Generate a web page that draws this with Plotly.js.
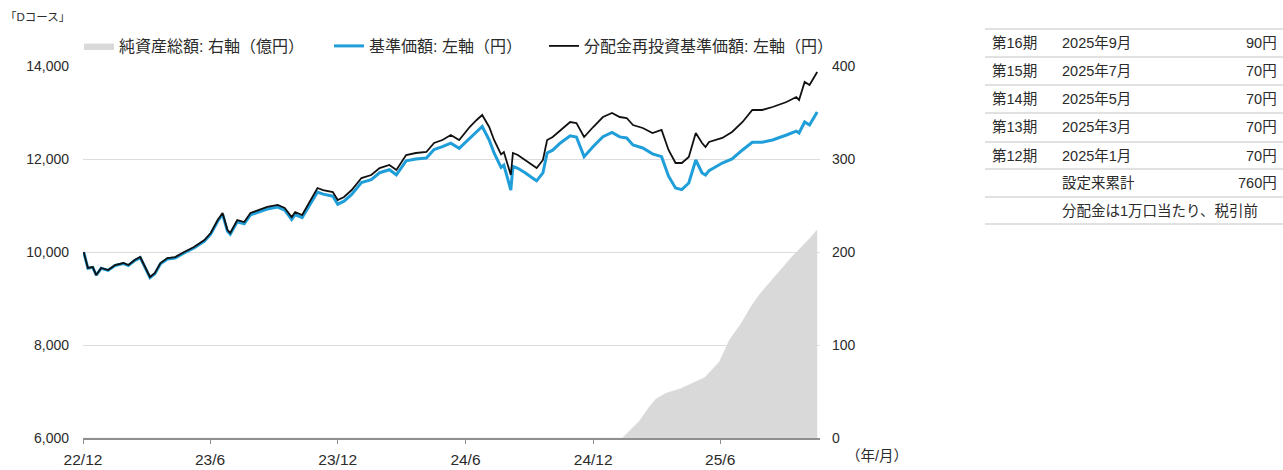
<!DOCTYPE html>
<html><head><meta charset="utf-8">
<script src="https://cdn.plot.ly/plotly-3.0.1.min.js"></script>
<style>html,body{margin:0;padding:0;background:#fff}#chart{width:1283px;height:470px}</style>
</head><body><div id="chart"></div>
<script>
// ---- data ----
const navDates = ["2022-12-02","2022-12-08","2022-12-15","2022-12-20","2022-12-27","2023-01-06","2023-01-16","2023-01-28","2023-02-04","2023-02-13","2023-02-21","2023-02-28","2023-03-07","2023-03-14","2023-03-22","2023-04-01","2023-04-12","2023-04-25","2023-05-09","2023-05-24","2023-06-02","2023-06-12","2023-06-19","2023-06-26","2023-06-30","2023-07-10","2023-07-20","2023-07-29","2023-08-10","2023-08-22","2023-09-06","2023-09-16","2023-09-26","2023-10-01","2023-10-11","2023-11-02","2023-11-10","2023-11-24","2023-12-01","2023-12-10","2023-12-21","2024-01-04","2024-01-18","2024-01-30","2024-02-13","2024-02-23","2024-03-08","2024-03-22","2024-04-06","2024-04-17","2024-04-29","2024-05-11","2024-05-23","2024-06-07","2024-06-17","2024-06-25","2024-07-05","2024-07-12","2024-07-22","2024-07-26","2024-08-05","2024-08-08","2024-08-15","2024-08-26","2024-09-05","2024-09-11","2024-09-20","2024-09-26","2024-10-04","2024-10-15","2024-10-29","2024-11-07","2024-11-18","2024-12-01","2024-12-15","2024-12-28","2025-01-08","2025-01-18","2025-01-27","2025-02-10","2025-02-24","2025-03-09","2025-03-19","2025-03-29","2025-04-07","2025-04-17","2025-04-27","2025-05-06","2025-05-11","2025-05-16","2025-06-04","2025-06-18","2025-07-03","2025-07-17","2025-07-31","2025-08-15","2025-09-04","2025-09-18","2025-09-22","2025-09-30","2025-10-07","2025-10-18"];
const reinvestNav = [10000,9656,9677,9505,9656,9613,9720,9763,9720,9828,9892,9677,9462,9548,9763,9871,9892,10000,10108,10258,10409,10688,10839,10473,10409,10688,10645,10839,10903,10968,11011,10946,10750,10860,10796,11376,11333,11290,11118,11183,11333,11591,11656,11806,11871,11763,12086,12129,12151,12344,12409,12516,12409,12688,12839,12946,12688,12409,12100,12150,11656,12129,12086,11979,11871,11806,11979,12409,12473,12624,12796,12774,12473,12688,12903,12989,12903,12882,12731,12667,12559,12624,12194,11914,11914,12043,12559,12344,12258,12366,12452,12581,12796,13054,13054,13118,13226,13333,13269,13656,13591,13871];
const nav = [10000,9650,9670,9500,9650,9605,9710,9752,9708,9815,9878,9662,9446,9530,9745,9850,9870,9978,10085,10235,10385,10662,10812,10445,10380,10650,10605,10798,10860,10925,10965,10900,10700,10805,10738,11290,11245,11200,11028,11093,11240,11492,11556,11705,11770,11660,11960,12000,12020,12205,12265,12340,12230,12450,12600,12700,12410,12130,11820,11870,11333,11840,11800,11700,11590,11530,11700,12130,12190,12344,12500,12473,12050,12270,12480,12570,12475,12452,12300,12237,12110,12050,11630,11376,11340,11484,11979,11700,11656,11750,11914,12000,12194,12360,12360,12409,12516,12600,12559,12796,12731,13011];
const assetDates = ["2022-12-02","2025-01-12","2025-02-05","2025-02-20","2025-03-01","2025-03-15","2025-04-05","2025-04-22","2025-05-10","2025-05-31","2025-06-05","2025-06-14","2025-07-01","2025-07-15","2025-07-28","2025-08-15","2025-08-28","2025-09-12","2025-09-25","2025-10-08","2025-10-18"];
const netAssets = [0,0,18,34,42,48,53,59,65,82,90,105,123,141,155,170,182,195,205,215,224];
const tickDates = ["2022-12-01","2023-06-01","2023-12-01","2024-06-01","2024-12-01","2025-06-01"];
const tickLabels = ["22/12","23/6","23/12","24/6","24/12","25/6"];
const seriesNames = ["純資産総額: 右軸（億円）","基準価額: 左軸（円）","分配金再投資基準価額: 左軸（円）"];
const periods = ["第16期","第15期","第14期","第13期","第12期"];
const payMonths = ["2025年9月","2025年7月","2025年5月","2025年3月","2025年1月"];
const payAmounts = ["90円","70円","70円","70円","70円"];
const totalLabel = "設定来累計";
const totalAmount = "760円";
const noteText = "分配金は1万口当たり、税引前";
const chartTitle = "「Dコース」";
const axisUnit = "（年/月）";

// ---- geometry helpers (pixel -> paper) ----
const W = 1283, H = 470, L = 83, R = 820, T = 66, B = 438;
const px = x => (x - L) / (R - L);
const py = y => (B - y) / (B - T);
const FONT = '"Liberation Sans", "Noto Sans CJK JP", sans-serif';
const TXT = '#2b2b2b';
const TBL = 14.5;

const traces = [
  {x: assetDates, y: netAssets, yaxis: 'y2', type: 'scatter', mode: 'lines', fill: 'tozeroy',
   fillcolor: '#d9d9d9', line: {color: '#d9d9d9', width: 0.5}, name: seriesNames[0], legend: 'legend', hoverinfo: 'skip'},
  {x: navDates, y: nav, type: 'scatter', mode: 'lines', line: {color: '#1f9ed9', width: 3}, name: seriesNames[1], legend: 'legend2'},
  {x: navDates, y: reinvestNav, type: 'scatter', mode: 'lines', line: {color: '#111111', width: 1.8}, name: seriesNames[2], legend: 'legend3'}
];

const shapes = [];
const annotations = [];
annotations.push({xref: 'paper', yref: 'paper', x: px(3), y: py(17), xanchor: 'left', yanchor: 'middle', text: chartTitle, showarrow: false, font: {size: 11.5, color: TXT}});
annotations.push({xref: 'paper', yref: 'paper', x: px(877), y: py(456), xanchor: 'center', yanchor: 'middle', text: axisUnit, showarrow: false, font: {size: 14.5, color: TXT}});

// table
const lineYs = [29, 57, 85, 113, 142, 169, 197, 224];
lineYs.forEach(yy => shapes.push({type: 'line', xref: 'paper', yref: 'paper', x0: px(985), x1: px(1283), y0: py(yy), y1: py(yy), line: {color: '#c4c4c4', width: 1.2}}));
const rowY = i => (lineYs[i] + lineYs[i + 1]) / 2;
periods.forEach((p, i) => {
  annotations.push({xref: 'paper', yref: 'paper', x: px(990), y: py(rowY(i)), xanchor: 'left', yanchor: 'middle', text: p, showarrow: false, font: {size: TBL, color: TXT}});
  annotations.push({xref: 'paper', yref: 'paper', x: px(1060), y: py(rowY(i)), xanchor: 'left', yanchor: 'middle', text: payMonths[i], showarrow: false, font: {size: TBL, color: TXT}});
  annotations.push({xref: 'paper', yref: 'paper', x: px(1279), y: py(rowY(i)), xanchor: 'right', yanchor: 'middle', text: payAmounts[i], showarrow: false, font: {size: TBL, color: TXT}});
});
annotations.push({xref: 'paper', yref: 'paper', x: px(1060), y: py(rowY(5)), xanchor: 'left', yanchor: 'middle', text: totalLabel, showarrow: false, font: {size: TBL, color: TXT}});
annotations.push({xref: 'paper', yref: 'paper', x: px(1279), y: py(rowY(5)), xanchor: 'right', yanchor: 'middle', text: totalAmount, showarrow: false, font: {size: TBL, color: TXT}});
annotations.push({xref: 'paper', yref: 'paper', x: px(1060), y: py(rowY(6)), xanchor: 'left', yanchor: 'middle', text: noteText, showarrow: false, font: {size: TBL, color: TXT}});

const legendBase = {orientation: 'h', xanchor: 'left', yanchor: 'middle', y: py(46), bgcolor: 'rgba(0,0,0,0)', borderwidth: 0, font: {size: 16, color: TXT}};

const layout = {
  width: W, height: H,
  margin: {l: L, r: W - R, t: T, b: H - B, pad: 0},
  paper_bgcolor: '#ffffff', plot_bgcolor: '#ffffff',
  font: {family: FONT, size: 13, color: TXT},
  showlegend: true,
  legend: Object.assign({}, legendBase, {x: px(79)}),
  legend2: Object.assign({}, legendBase, {x: px(329)}),
  legend3: Object.assign({}, legendBase, {x: px(544)}),
  xaxis: {type: 'date', range: ['2022-12-01', '2025-10-22'], tickvals: tickDates, ticktext: tickLabels,
    showgrid: false, showline: true, linecolor: '#8f8f8f', linewidth: 1.5, ticks: 'outside', ticklen: 4,
    tickcolor: '#8f8f8f', tickfont: {size: 15.5, color: TXT}, zeroline: false, ticklabelstandoff: 3},
  yaxis: {range: [6000, 14000], dtick: 2000, tickformat: ',', showgrid: true, gridcolor: '#dcdcdc', gridwidth: 1,
    zeroline: false, showline: false, ticks: '', tickfont: {size: 14, color: TXT}, ticklabelstandoff: 13},
  yaxis2: {overlaying: 'y', side: 'right', range: [0, 400], dtick: 100, showgrid: false, zeroline: false,
    showline: false, ticks: '', tickfont: {size: 14, color: TXT}, ticklabelstandoff: 11},
  shapes: shapes,
  annotations: annotations
};

Plotly.newPlot('chart', traces, layout, {displayModeBar: false, staticPlot: true});
</script>
</body></html>
